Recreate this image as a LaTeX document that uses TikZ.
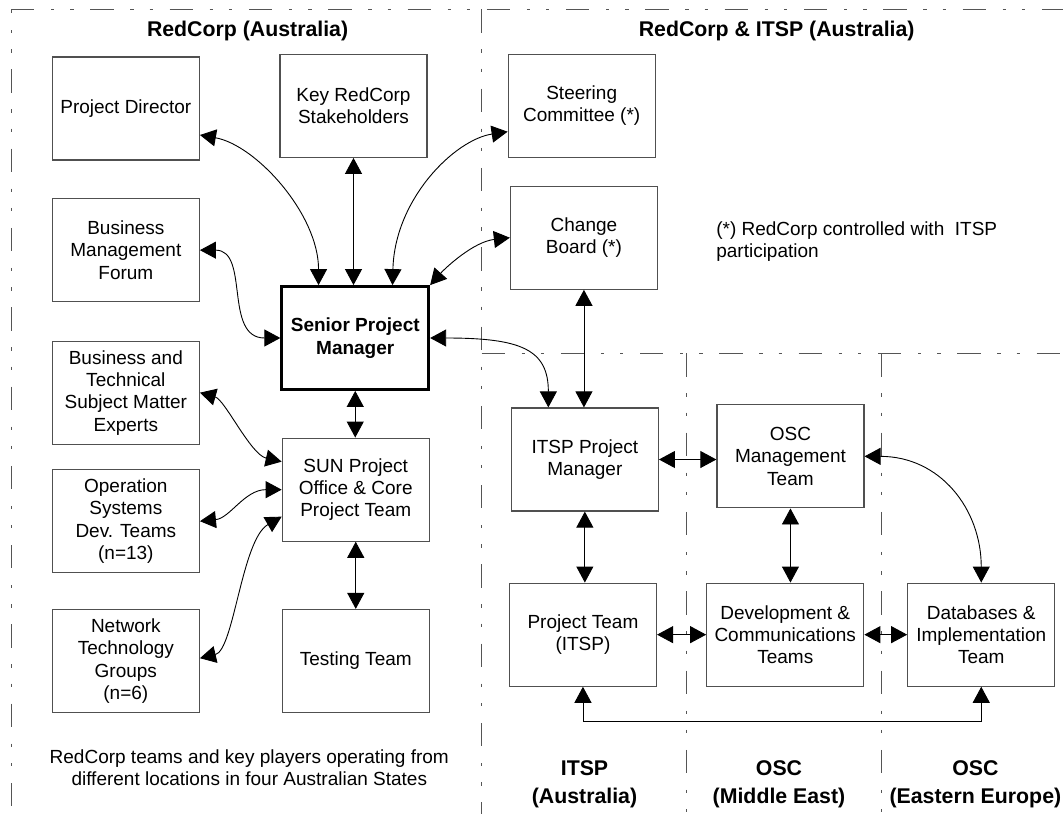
\documentclass[tikz,border=0pt]{standalone}
\usepackage{fontspec}
\setmainfont{Liberation Sans}
\usetikzlibrary{arrows.meta,calc}
\newcommand\myfn{\fontsize{19pt}{22.3pt}\selectfont}
\newcommand\myfh{\fontsize{21.3pt}{28.3pt}\selectfont\bfseries}
\definecolor{boxgray}{HTML}{505050}
\definecolor{dashgray}{HTML}{555555}
\tikzset{
  box/.style={draw=boxgray, line width=1.2pt, align=center, inner sep=0pt,
    minimum width=147pt, minimum height=103pt, font=\myfn},
  keybox/.style={box, draw=black, line width=2.8pt, font=\myfn\bfseries},
  head/.style={align=center, inner sep=0pt, font=\myfh},
  txt/.style={inner sep=0pt, font=\myfn},
  conn/.style={draw=black, line width=0.9pt,
    {Triangle[length=16pt,width=17pt]}-{Triangle[length=16pt,width=17pt]}},
  region/.style={draw=dashgray, line width=1pt,
    dash pattern=on 23.3pt off 16.7pt on 3.3pt off 16pt on 3.3pt off 16.7pt}
}
\begin{document}
\begin{tikzpicture}[x=1pt,y=-1pt]
\useasboundingbox (0,0) rectangle (1063,814);
\fill[white] (0,0) rectangle (1063,814);

% region borders
\coordinate (tl) at (11,9.3);
\coordinate (tr) at (1063,9.3);
\coordinate (bl) at (11,814);
\coordinate (dtop) at (481.5,9.3);
\coordinate (dbot) at (481.5,814);
\coordinate (hl) at (481.5,353.3);
\coordinate (hr) at (1063,353.3);
\coordinate (v1t) at (686.7,353.3);
\coordinate (v1b) at (686.7,814);
\coordinate (v2t) at (881.7,353.3);
\coordinate (v2b) at (881.7,814);
\draw[region] (tl) -- (tr);
\draw[region, dash phase=19.3pt] (tl) -- (bl);
\draw[region] (dtop) -- (dbot);
\draw[region] (hl) -- (hr);
\draw[region] (v1t) -- (v1b);
\draw[region] (v2t) -- (v2b);

% headings
\node[head] (h1) at (247.6,30.7) {RedCorp (Australia)};
\node[head] (h2) at (776.7,30.7) {RedCorp \& ITSP (Australia)};
\node[head] (l1) at (584.5,784) {ITSP\\(Australia)};
\node[head] (l2) at (779,784) {OSC\\(Middle East)};
\node[head] (l3) at (975.4,784) {OSC\\(Eastern Europe)};
\node[txt, anchor=west, align=left] (fn) at (716.1,241.7) {(*) RedCorp controlled with\ \ ITSP\\participation};
\node[txt, align=center] (bt) at (249.3,768) {RedCorp teams and key players operating from\\different locations in four Australian States};

% boxes
\node[box] (pd) at (125.85,108.5) {Project Director};
\node[box] (krs) at (353.5,105.8) {Key RedCorp\\Stakeholders};
\node[box] (sc) at (581.7,105.8) {Steering\\Committee (*)};
\node[box] (bmf) at (125.85,250.15) {Business\\Management\\Forum};
\node[box] (cb) at (583.95,237.7) {Change\\Board (*)};
\node[keybox] (spm) at (355.25,338) {Senior Project\\Manager};
\node[box] (bts) at (125.85,392.65) {Business and\\Technical\\Subject Matter\\Experts};
\node[box] (sun) at (355.75,489.65) {SUN Project\\Office \& Core\\Project Team};
\node[box] (ops) at (125.85,521.2) {Operation\\Systems\\Dev. Teams\\(n=13)};
\node[box] (ntg) at (125.85,661.2) {Network\\Technology\\Groups\\(n=6)};
\node[box] (tt) at (355.75,661) {Testing Team};
\node[box] (ipm) at (584.85,459.5) {ITSP Project\\Manager};
\node[box] (osc) at (790.45,456.35) {OSC\\Management\\Team};
\node[box] (pt) at (582.95,634.65) {Project Team\\(ITSP)};
\node[box, minimum width=157pt] (dev) at (785.25,634.65) {Development \&\\Communications\\Teams};
\node[box] (db) at (981.25,634.65) {Databases \&\\Implementation\\Team};

% connectors
\draw[conn] ($(pd.east)+(0,26.5)$) .. controls +(56,10) and +(0,-71) .. ($(spm.north)+(-36.7,0)$);
\draw[conn] (krs.south) -- (krs.south |- spm.north);
\draw[conn] ($(sc.west)+(0,25.9)$) .. controls +(-53,8) and +(2,-86) .. ($(spm.north)+(37.3,0)$);
\draw[conn] (cb.west) .. controls +(-36,4) and +(16,-18) .. (spm.north east);
\draw[conn] (bmf.east) .. controls +(50,0) and +(-57,0) .. (spm.west);
\draw[conn] (spm.east) .. controls +(91,0) and +(0,-58) .. ($(ipm.north)+(-36.5,0)$);
\draw[conn] (spm.south) -- (spm.south |- sun.north);
\draw[conn] (cb.south) -- (cb.south |- ipm.north);
\draw[conn] (bts.east) .. controls +(25,7) and +(-31,-7) .. ($(sun.west)+(0,-28)$);
\draw[conn] (ops.east) .. controls +(30,-3) and +(-37,0) .. (sun.west);
\draw[conn] ($(ntg.east)+(0,-3)$) .. controls +(34,-8) and +(-40,23) .. ($(sun.west)+(0,27)$);
\draw[conn] (sun.south) -- (sun.south |- tt.north);
\draw[conn] (ipm.east) -- (ipm.east -| osc.west);
\draw[conn] (ipm.south) -- (ipm.south |- pt.north);
\draw[conn] (osc.south) -- (osc.south |- dev.north);
\draw[conn] (osc.east) .. controls +(76,0) and +(0,-73) .. (db.north);
\draw[conn] (pt.east) -- (dev.west);
\draw[conn] (dev.east) -- (db.west);
\draw[conn] (pt.south) -- ($(pt.south)+(0,35)$) -| (db.south);
\end{tikzpicture}
\end{document}
